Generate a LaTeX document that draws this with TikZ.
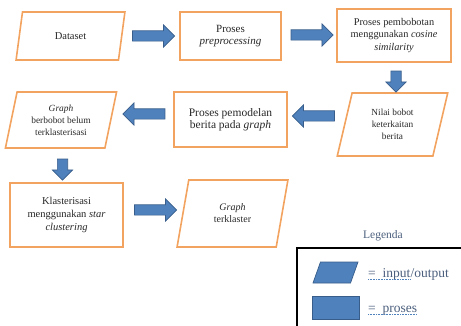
\documentclass[tikz,border=0pt]{standalone}
\usepackage{fontspec}
\setmainfont{Liberation Serif}
\usetikzlibrary{shapes.geometric,shapes.arrows}
\definecolor{orng}{RGB}{243,163,96}
\definecolor{arrfill}{RGB}{79,129,189}
\definecolor{arrdraw}{RGB}{56,93,138}
\definecolor{txt}{RGB}{40,40,40}
\definecolor{legtxt}{RGB}{75,95,125}
\begin{document}
\begin{tikzpicture}[x=1pt,y=-1pt,
  procbox/.style={draw=orng,line width=1.6pt,fill=white,rectangle,align=center,text=txt,inner sep=1pt},
  iobox/.style={draw=orng,line width=1.6pt,fill=white,trapezium,trapezium left angle=76,trapezium right angle=104,trapezium stretches=true,align=center,text=txt,inner sep=1pt},
  harrow/.style={single arrow,fill=arrfill,draw=arrdraw,line width=0.7pt,inner sep=4.8pt,minimum height=42pt,single arrow head extend=6pt},
  varrow/.style={single arrow,fill=arrfill,draw=arrdraw,line width=0.7pt,inner sep=4.8pt,minimum height=21pt,single arrow head extend=5pt,rotate=-90},
  ulstyle/.style={draw=arrfill,line width=0.6pt,densely dotted},
  legtext/.style={anchor=base west,inner sep=0pt,text=legtxt,font=\fontsize{13.5}{15}\selectfont}
]
\useasboundingbox (0,0) rectangle (461,326);

% flow nodes
\node[iobox,minimum width=109pt,minimum height=48pt,font=\fontsize{10.5}{12}\selectfont] (dataset) at (70.5,36) {Dataset};
\node[procbox,minimum width=101pt,minimum height=48pt,font=\fontsize{11}{12}\selectfont] (prep) at (230.5,36) {Proses\\\textit{preprocessing}};
\node[procbox,minimum width=114pt,minimum height=53pt,font=\fontsize{10.3}{12.5}\selectfont] (bobot) at (394,35.5) {Proses pembobotan\\menggunakan \textit{cosine}\\\textit{similarity}};
\node[iobox,minimum width=111pt,minimum height=63pt,font=\fontsize{9.3}{12}\selectfont] (nilai) at (392.5,124.5) {Nilai bobot\\keterkaitan\\berita};
\node[procbox,minimum width=113pt,minimum height=55pt,font=\fontsize{11.5}{12.5}\selectfont] (model) at (230.5,119.5) {Proses pemodelan\\berita pada \textit{graph}};
\node[iobox,minimum width=112pt,minimum height=56pt,font=\fontsize{9.4}{12}\selectfont] (gbelum) at (61,120) {\textit{Graph}\\berbobot belum\\terklasterisasi};
\node[procbox,minimum width=113pt,minimum height=64pt,font=\fontsize{10.5}{13}\selectfont] (klas) at (66.5,215) {Klasterisasi\\menggunakan \textit{star}\\\textit{clustering}};
\node[iobox,minimum width=111pt,minimum height=67pt,font=\fontsize{10}{12}\selectfont] (gterk) at (232.5,213.5) {\textit{Graph}\\terklaster};

% block arrows
\node[harrow] (a1) at (151,36) {};
\node[harrow] (a2) at (309.5,35) {};
\node[varrow] (a3) at (396,79) {};
\node[harrow,rotate=180] (a4) at (316,116) {};
\node[harrow,rotate=180] (a5) at (146.5,114) {};
\node[varrow] (a6) at (62.5,167) {};
\node[harrow] (a7) at (153,210) {};

% legend
\node[text=legtxt,font=\fontsize{11.5}{13}\selectfont] (legtitle) at (383,236) {Legenda};
\draw[black,line width=1.8pt] (297,248) rectangle (465,330);
\node[trapezium,trapezium left angle=76,trapezium right angle=104,trapezium stretches=true,fill=arrfill,draw=arrdraw,line width=0.7pt,minimum width=45pt,minimum height=21pt] (legio) at (335.5,272.5) {};
\node[rectangle,fill=arrfill,draw=arrdraw,line width=0.7pt,minimum width=47pt,minimum height=23pt] (legproc) at (335.5,307.5) {};
\node[legtext] (lio1) at (368,277) {=\ \ input};
\node[legtext] (lio2) at (lio1.base east) {/output};
\node[legtext] (lpr) at (368,312) {=\ \ proses};
\draw[ulstyle] ([yshift=-2.5pt]lio1.base west) -- ([yshift=-2.5pt]lio1.base east);
\draw[ulstyle] ([yshift=-2.5pt]lpr.base west) -- ([yshift=-2.5pt]lpr.base east);
\end{tikzpicture}
\end{document}
